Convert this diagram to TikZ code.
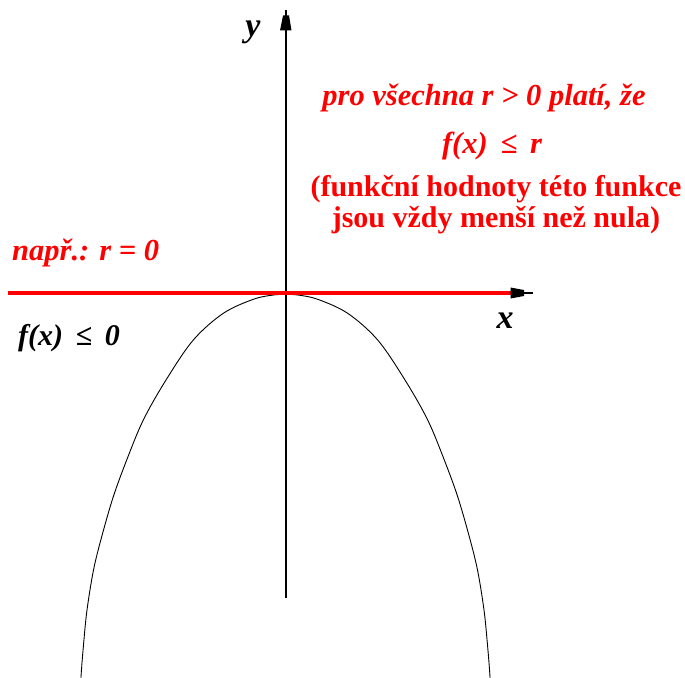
\documentclass[tikz,border=0pt]{standalone}
\usepackage{fontspec}
\setmainfont{Liberation Serif}
\definecolor{myred}{RGB}{255,0,0}
\newcommand{\gap}{\hspace{0.42em}}
\begin{document}
\begin{tikzpicture}[x=1pt,y=-1pt,
  redit/.style={text=myred,font=\fontsize{30.5}{32}\selectfont\bfseries\itshape,inner sep=0pt},
  redbf/.style={text=myred,font=\fontsize{30}{32}\selectfont\bfseries,inner sep=0pt},
  blkit/.style={text=black,font=\fontsize{30}{32}\selectfont\bfseries\itshape,inner sep=0pt},
  axislbl/.style={text=black,font=\fontsize{34}{36}\selectfont\bfseries\itshape,inner sep=0pt},
  axisline/.style={draw=black,line width=1.3pt},
  tipblock/.style={fill=black,draw=none}]
\useasboundingbox (0,0) rectangle (685,677);
\fill[white] (0,0) rectangle (685,677);
% coordinates
\coordinate (yb) at (286,598);
\coordinate (yt) at (286,10);
\coordinate (xl) at (10,293);
\coordinate (xr) at (533,293);
\coordinate (rl) at (8,293);
\coordinate (rr) at (514,293);
% curve
\begin{scope}
\clip (0,0) rectangle (685,677);
\draw[black,line width=0.9pt] plot[smooth,tension=0.55] coordinates {
 (80.3,700) (81,677) (83.5,645) (87,610) (93.5,570) (101.7,536.7) (113.3,496.7)
 (126.7,460) (143.3,420) (166,380) (193.3,340) (223.3,313.3) (253.3,299.3)
 (273.3,295) (285.5,294.5)
 (297.7,295) (317.7,299.3) (347.7,313.3) (377.7,340) (405,380) (427.7,420)
 (444.3,460) (457.7,496.7) (469.3,536.7) (477.5,570) (484,610) (487.5,645)
 (490,677) (490.7,700)};
\end{scope}
% axes
\draw[axisline] (yb) -- (yt);
\draw[axisline] (xl) -- (xr);
\draw[myred,line width=4pt] (rl) -- (rr);
\fill[tipblock] (280,30.5) -- (291.5,30.5) -- (289,15.5) -- (283,15.5) -- cycle;
\fill[tipblock] (510.5,287.5) -- (510.5,298.5) -- (524,296) -- (524,290) -- cycle;
% labels
\node[axislbl,anchor=base] (ly) at (253,37) {y};
\node[axislbl,anchor=base] (lx) at (505,328) {x};
\node[redit,anchor=base] (t1) at (484,105) {pro všechna r > 0 platí, že};
\node[redit,anchor=base] (t2) at (492,153) {f(x)\gap≤\gap r};
\node[redbf,anchor=base] (t3) at (496,196) {(funkční hodnoty této funkce};
\node[redbf,anchor=base] (t4) at (496,227) {jsou vždy menší než nula)};
\node[redit,anchor=base west] (t5) at (12,260) {např.: r = 0};
\node[blkit,anchor=base west] (t6) at (18,345) {f(x)\gap≤\gap 0};
\end{tikzpicture}
\end{document}
